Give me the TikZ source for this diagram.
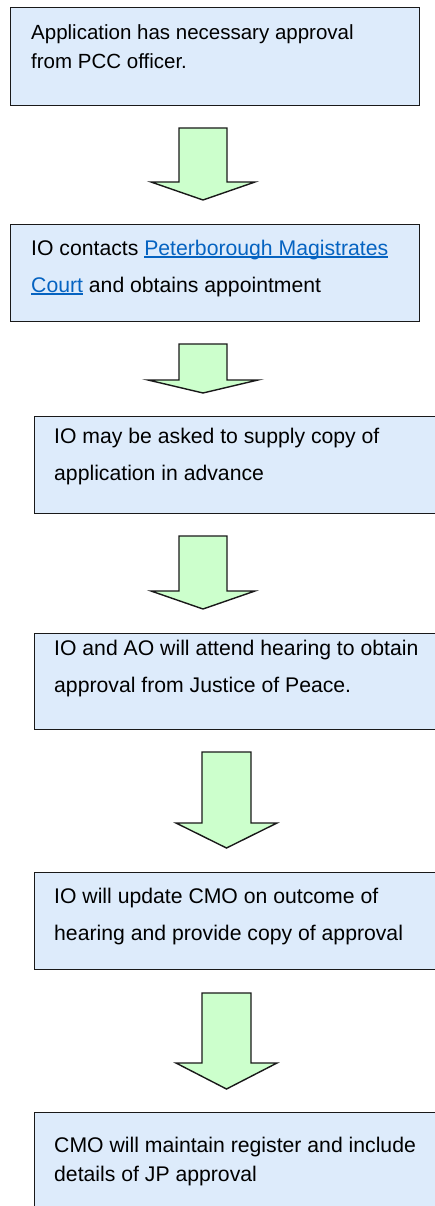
\documentclass[tikz,border=0pt]{standalone}
\usepackage{fontspec}
\setmainfont{Liberation Sans}
\definecolor{boxfill}{RGB}{221,235,251}
\definecolor{arrfill}{RGB}{204,255,204}
\definecolor{edge}{RGB}{25,25,25}
\definecolor{linkblue}{RGB}{5,99,193}
\newsavebox\lnkbox
\newcommand\lnk[1]{{\color{linkblue}\sbox\lnkbox{#1}\rlap{\rule[-2.6pt]{\wd\lnkbox}{1.3pt}}\usebox\lnkbox}}
\newcommand\blockarr[8]{%
  \draw[arr] ({#2},{#4}) -- ({#3},{#4}) -- ({#3},{#5}) -- ({#7},{#5})
    -- ({(#2+#3)/2},{#8}) coordinate (#1tip) -- ({#6},{#5}) -- ({#2},{#5}) -- cycle;}
\begin{document}
\begin{tikzpicture}[x=1pt,y=-1pt,
  box/.style={draw=edge,line width=1.4pt,fill=boxfill,rectangle,inner sep=0pt,anchor=north west},
  arr/.style={draw=edge,line width=1.4pt,fill=arrfill,line join=miter},
  txt/.style={anchor=base west,inner sep=0pt,font=\fontsize{21.2pt}{25pt}\selectfont,text=black},
  txtsmall/.style={txt,font=\fontsize{20.5pt}{24pt}\selectfont}]
\useasboundingbox (0,0) rectangle (435,1206);
\clip (0,0) rectangle (435,1206);
% boxes
\node[box,minimum width=409pt,minimum height=98pt] (b1) at (10,7) {};
\node[box,minimum width=409pt,minimum height=97pt] (b2) at (10,224) {};
\node[box,minimum width=411pt,minimum height=97pt] (b3) at (34,416) {};
\node[box,minimum width=411pt,minimum height=96pt] (b4) at (34,633) {};
\node[box,minimum width=411pt,minimum height=97pt] (b5) at (34,872) {};
\node[box,minimum width=411pt,minimum height=110pt] (b6) at (34,1112) {};
% texts
\node[txtsmall] (t1a) at (31,40) {Application has necessary approval};
\node[txtsmall] (t1b) at (31,69) {from PCC officer.};
\node[txt] (t2a) at (31,255) {IO contacts \lnk{Peterborough Magistrates}};
\node[txt] (t2b) at (31,292) {\lnk{Court} and obtains appointment};
\node[txt] (t3a) at (54,443) {IO may be asked to supply copy of};
\node[txt] (t3b) at (54,480) {application in advance};
\node[txt] (t4a) at (54,655) {IO and AO will attend hearing to obtain};
\node[txt] (t4b) at (54,692) {approval from Justice of Peace.};
\node[txt] (t5a) at (54,903) {IO will update CMO on outcome of};
\node[txt] (t5b) at (54,940) {hearing and provide copy of approval};
\node[txt] (t6a) at (54,1152) {CMO will maintain register and include};
\node[txt] (t6b) at (54,1181) {details of JP approval};
% block arrows
\blockarr{a1}{179}{227}{128}{182}{151}{255}{200}
\blockarr{a2}{179}{227}{344}{380}{148}{258}{393}
\blockarr{a3}{179}{227}{536}{591}{151}{255}{609}
\blockarr{a4}{202}{251}{752}{823}{176}{277}{848}
\blockarr{a5}{202}{251}{993}{1063}{176}{277}{1089}
\end{tikzpicture}
\end{document}
